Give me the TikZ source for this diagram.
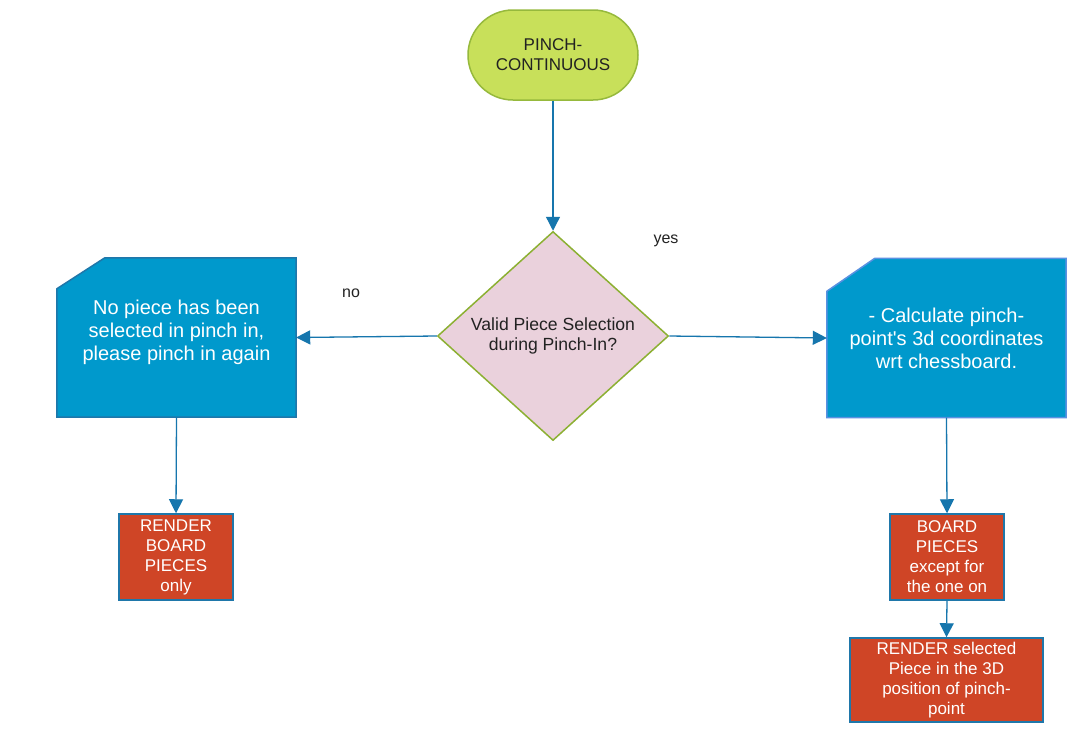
\documentclass[tikz,border=0pt]{standalone}
\usepackage{fontspec}
\setmainfont{Liberation Sans}
\usetikzlibrary{shapes.geometric,arrows.meta,calc,backgrounds}
\definecolor{cardblue}{RGB}{0,153,204}
\definecolor{flowline}{RGB}{22,118,173}
\definecolor{cardedge}{RGB}{31,119,170}
\definecolor{cardedgelight}{RGB}{90,145,225}
\definecolor{startgreen}{RGB}{200,224,90}
\definecolor{startedge}{RGB}{150,185,60}
\definecolor{decpink}{RGB}{234,209,220}
\definecolor{decedge}{RGB}{140,176,50}
\definecolor{renderred}{RGB}{207,69,38}
\definecolor{darktext}{RGB}{34,34,34}

\begin{document}
\begin{tikzpicture}[x=1pt,y=-1pt,
    flow/.style={draw=flowline, line width=1.3pt, -{Triangle[length=14pt,width=14pt]}},
    smallfont/.style={font=\fontsize{17}{20}\selectfont},
    cardtext/.style={text=white, align=center, minimum width=239pt, minimum height=159pt, font=\fontsize{20}{23}\selectfont},
    renderbox/.style={rectangle, draw=cardedge, line width=1.5pt, fill=renderred, text=white, align=center, inner sep=2pt, smallfont}]
    \useasboundingbox (0,0) rectangle (1081,731);

    % Start and decision
    \node[rectangle, rounded corners=45pt, draw=startedge, line width=1.5pt, fill=startgreen, text=darktext,
          minimum width=170pt, minimum height=90pt, align=center, smallfont] (pinch) at (553,55) {PINCH-\\CONTINUOUS};
    \node[diamond, aspect=1.1, draw=decedge, line width=1.5pt, fill=decpink, text=darktext, inner sep=2pt,
          minimum width=231pt, minimum height=209pt, align=center, font=\fontsize{17.6}{20.5}\selectfont] (valid) at (553,336) {Valid Piece Selection\\during Pinch-In?};

    % Cards
    \node[cardtext] (nosel) at (176.5,337.5) {No piece has been\\selected in pinch in,\\please pinch in again\\[-9pt]};
    \node[cardtext] (calc3d) at (946.5,338) {- Calculate pinch-\\point\textquotesingle s 3d coordinates\\wrt chessboard.};
    \begin{scope}[on background layer]
        \fill[white] (0,0) rectangle (1081,731);
        \filldraw[fill=cardblue, draw=cardedge, line width=1.5pt] ($(nosel.north west)+(48pt,0)$) -- (nosel.north east)
            -- (nosel.south east) -- (nosel.south west) -- ($(nosel.north west)+(0,-31pt)$) -- cycle;
        \filldraw[fill=cardblue, draw=cardedgelight, line width=1.5pt] ($(calc3d.north west)+(48pt,0)$) -- (calc3d.north east)
            -- (calc3d.south east) -- (calc3d.south west) -- ($(calc3d.north west)+(0,-33pt)$) -- cycle;
    \end{scope}

    % Render boxes
    \node[renderbox, minimum width=114pt, minimum height=86pt] (renderonly) at (176,557) {RENDER\\BOARD\\PIECES\\only};
    \node[renderbox, minimum width=114pt, minimum height=86pt] (boardpieces) at (947,557) {BOARD\\PIECES\\except for\\the one on};
    \node[renderbox, minimum width=193pt, minimum height=84pt] (renderpiece) at (946.5,680) {RENDER selected\\Piece in the 3D\\position of pinch-\\point};

    % Connectors
    \draw[flow] (pinch.south) -- (valid.north);
    \draw[flow] (valid.west) -- (nosel.east);
    \draw[flow] (valid.east) -- (calc3d.west);
    \draw[flow] (nosel.south) -- (renderonly.north);
    \draw[flow] (calc3d.south) -- (boardpieces.north);
    \draw[flow] (boardpieces.south) -- (renderpiece.north);

    % Branch labels
    \node[text=darktext, font=\fontsize{16}{19}\selectfont] (nolabel) at (351,293) {no};
    \node[text=darktext, font=\fontsize{16}{19}\selectfont] (yeslabel) at (666,241) {yes};
\end{tikzpicture}
\end{document}
